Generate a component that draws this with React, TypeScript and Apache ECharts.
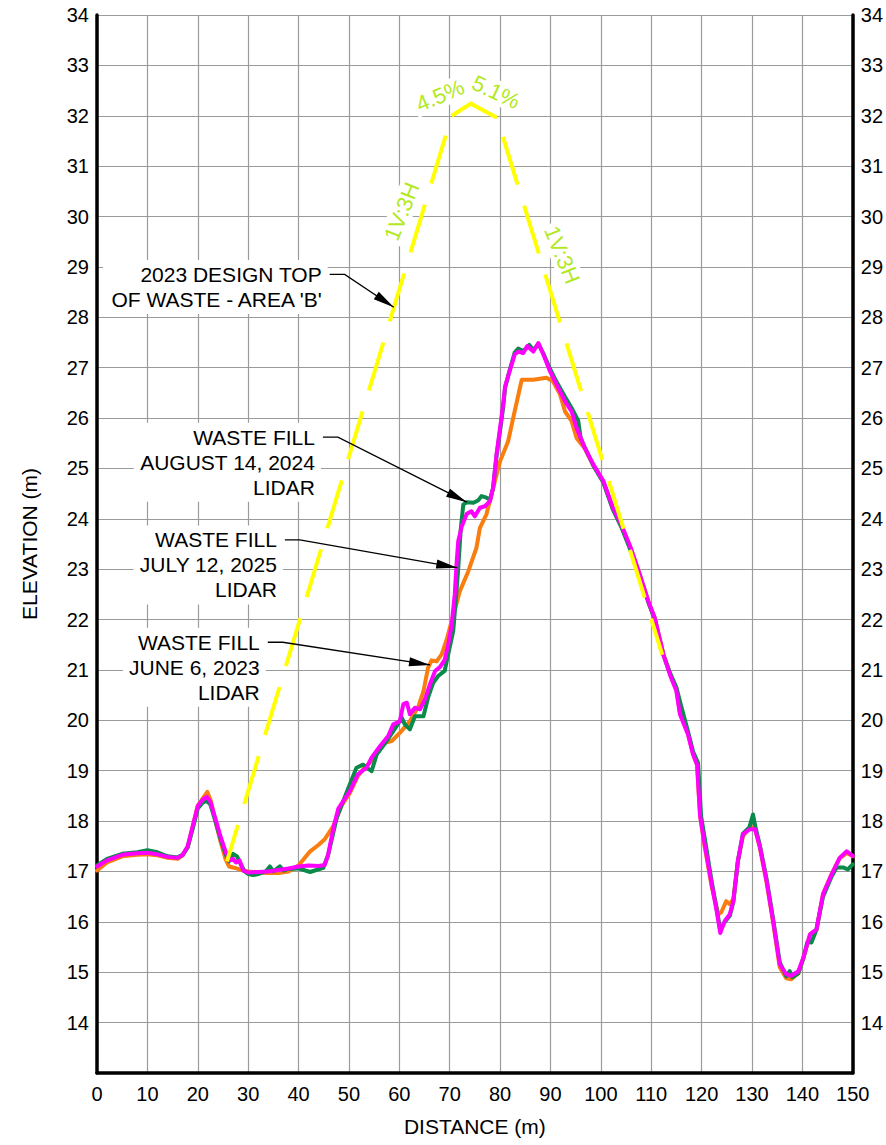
import React, { useEffect, useRef } from 'react';
import * as echarts from 'echarts';

// ---------- DATA ----------
// WASTE FILL JUNE 6, 2023 LIDAR  [distance m, elevation m]
const june2023: number[][] = [
  [0, 17.02], [2, 17.18], [5, 17.3], [8, 17.33], [10, 17.34], [12, 17.32], [14, 17.27], [16, 17.25],
  [17, 17.32], [18, 17.48], [19, 17.9], [20, 18.3], [21, 18.45], [21.9, 18.58], [22.6, 18.4], [23.5, 18.0],
  [24.5, 17.6], [25.5, 17.25], [26.2, 17.1], [27, 17.08], [28, 17.05], [29, 17.02], [30, 17.0], [32, 16.98],
  [34, 16.97], [36, 16.97], [38, 17.0], [40, 17.12], [42.3, 17.4], [44, 17.53], [45.2, 17.64], [46.9, 17.9],
  [48.5, 18.3], [50.2, 18.56], [51.8, 18.9], [53, 19.05], [54.5, 19.19], [56.8, 19.55], [58.5, 19.59],
  [60.1, 19.75], [62.1, 19.98], [63.8, 20.28], [64.8, 20.58], [65.7, 21.04], [66.4, 21.19], [67.4, 21.17],
  [68.4, 21.31], [69.4, 21.6], [70.4, 21.97], [72, 22.56], [73.7, 22.96], [75.3, 23.42], [76, 23.82],
  [77.3, 24.09], [78.3, 24.48], [80, 25.14], [81.6, 25.54], [82.6, 26.0], [84.3, 26.76], [86.6, 26.76],
  [89.2, 26.8], [90.5, 26.73], [91.9, 26.47], [92.9, 26.13], [94.2, 25.94], [95.2, 25.6], [96.8, 25.4],
  [98.5, 25.06], [100.5, 24.74], [102.4, 24.2], [104, 23.88], [105.8, 23.45], [107.7, 22.9], [109.4, 22.37],
  [110.7, 22.03], [112.4, 21.32], [113.7, 20.93], [115, 20.6], [115.7, 20.15], [117.3, 19.74], [118.3, 19.33],
  [119.1, 19.12], [119.7, 18.1], [120.6, 17.5], [122, 16.7], [123.3, 16.15], [123.9, 16.19], [124.9, 16.41],
  [125.6, 16.35], [126.3, 16.45], [127.2, 17.2], [128.2, 17.7], [129.6, 17.88], [130.6, 17.86], [131.6, 17.45],
  [132.9, 16.78], [134.2, 15.98], [135.5, 15.1], [136.8, 14.88], [137.8, 14.86], [139.2, 14.98], [140.2, 15.28],
  [141.5, 15.74], [142.8, 15.84], [144.1, 16.55], [145.8, 16.95], [147.4, 17.26], [148.8, 17.37], [150, 17.3],
];

// WASTE FILL AUGUST 14, 2024 LIDAR
const aug2024: number[][] = [
  [0, 17.12], [2, 17.25], [5, 17.35], [8, 17.38], [10, 17.42], [12, 17.38], [14, 17.3], [16, 17.28],
  [17, 17.33], [18, 17.48], [19, 17.85], [20, 18.25], [21, 18.37], [21.8, 18.4], [22.5, 18.33], [23.5, 18.0],
  [24.5, 17.65], [25.5, 17.35], [26.2, 17.2], [27, 17.35], [27.8, 17.3], [28.5, 17.15], [29.3, 17.0],
  [30, 16.95], [31, 16.93], [32, 16.95], [33.5, 17.0], [34.3, 17.1], [35, 17.0], [36.3, 17.1], [37, 17.02],
  [38, 17.05], [40, 17.06], [42.3, 16.99], [44.9, 17.07], [45.9, 17.34], [47.6, 18.07], [49.5, 18.56],
  [51.5, 19.06], [52.8, 19.12], [54.5, 18.99], [55.5, 19.32], [57.5, 19.59], [59.5, 19.89], [60.5, 20.05],
  [61.1, 19.92], [62.1, 19.82], [63.1, 20.08], [64.8, 20.08], [65.7, 20.45], [66.7, 20.74], [67.7, 20.88],
  [69, 20.98], [69.7, 21.31], [70.7, 21.77], [71.3, 22.5], [71.7, 23.03], [72.2, 23.8], [72.7, 24.28],
  [73.4, 24.33], [74.7, 24.32], [75.7, 24.37], [76.3, 24.45], [77.3, 24.42], [78, 24.38], [78.6, 24.6],
  [79.3, 25.25], [80, 25.75], [80.6, 26.2], [81, 26.6], [81.9, 26.95], [82.9, 27.3], [83.6, 27.38],
  [84.6, 27.33], [85.8, 27.45], [86.6, 27.35], [87.6, 27.47], [88.6, 27.28], [89.9, 26.98], [91.2, 26.72],
  [92.9, 26.42], [94.2, 26.2], [95.5, 25.95], [96, 25.6], [96.8, 25.42], [98.5, 25.06], [100.5, 24.72],
  [102.4, 24.18], [104, 23.85], [105.8, 23.4], [107.7, 22.88], [109.4, 22.35], [110.7, 22.0], [112.4, 21.3],
  [113.7, 20.95], [115, 20.65], [115.9, 20.3], [117.3, 19.78], [118.3, 19.38], [119.3, 19.15], [119.9, 18.1],
  [120.8, 17.55], [122, 16.8], [123, 16.25], [123.7, 15.84], [124.6, 16.0], [125.6, 16.12], [126.3, 16.4],
  [127.2, 17.2], [128.2, 17.75], [129.5, 17.88], [130.2, 18.13], [130.7, 17.88], [131.6, 17.5], [132.9, 16.85],
  [134.2, 16.05], [135.5, 15.2], [136.8, 14.92], [137.5, 15.02], [138, 14.9], [139.2, 14.98], [140.2, 15.28],
  [141, 15.6], [141.8, 15.59], [142.8, 15.85], [144.1, 16.5], [145.8, 16.9], [146.8, 17.08], [148.1, 17.08],
  [149, 17.04], [150, 17.14],
];

// WASTE FILL JULY 12, 2025 LIDAR
const jul2025: number[][] = [
  [0, 17.1], [2, 17.22], [5, 17.33], [8, 17.36], [10, 17.37], [12, 17.34], [14, 17.29], [16, 17.27],
  [17, 17.33], [18, 17.5], [19, 17.9], [20, 18.3], [21, 18.43], [21.8, 18.48], [22.5, 18.38], [23.5, 18.05],
  [24.5, 17.7], [25.5, 17.4], [26.2, 17.22], [27, 17.25], [27.6, 17.18], [28.3, 17.22], [29, 17.02],
  [30, 16.98], [32, 16.99], [34, 17.0], [36, 17.03], [38, 17.06], [40, 17.1], [42, 17.12], [44, 17.11],
  [45.2, 17.13], [45.8, 17.3], [47, 17.9], [47.9, 18.25], [48.9, 18.4], [50.2, 18.6], [51.8, 18.93],
  [53.5, 19.06], [54.5, 19.26], [56.2, 19.49], [57.8, 19.69], [58.8, 19.92], [60.1, 19.98], [60.8, 20.32],
  [61.5, 20.35], [62.1, 20.12], [63.1, 20.25], [64.1, 20.22], [65.1, 20.42], [66.1, 20.72], [67.1, 20.98],
  [68.1, 21.06], [69, 21.2], [69.7, 21.5], [70.4, 21.9], [71, 22.5], [71.4, 23.16], [71.7, 23.56],
  [72.4, 23.85], [73.4, 24.1], [74.3, 24.15], [75, 24.05], [76, 24.22], [77, 24.25], [78, 24.35],
  [78.6, 24.61], [79.3, 25.28], [80, 25.8], [80.6, 26.27], [81, 26.63], [81.9, 26.93], [82.9, 27.26],
  [83.6, 27.32], [84.6, 27.29], [85.4, 27.43], [86.6, 27.32], [87.6, 27.49], [88.6, 27.26], [89.9, 26.93],
  [91.2, 26.67], [92.9, 26.33], [94.2, 26.13], [95.2, 25.8], [96.8, 25.41], [98.5, 25.08], [100.5, 24.75],
  [102.4, 24.22], [104, 23.9], [105.8, 23.46], [107.7, 22.9], [109.4, 22.37], [110.7, 22.03], [112.4, 21.31],
  [113.7, 20.91], [115, 20.58], [115.7, 20.12], [117.3, 19.72], [118.3, 19.32], [119.1, 19.12], [119.7, 18.1],
  [120.6, 17.54], [122, 16.75], [123, 16.21], [123.7, 15.78], [124.6, 16.02], [125.6, 16.15], [126.3, 16.41],
  [127.2, 17.21], [128.2, 17.74], [129.6, 17.84], [130.6, 17.84], [131.6, 17.48], [132.9, 16.81],
  [134.2, 16.02], [135.5, 15.16], [136.8, 14.96], [137.8, 14.93], [139.2, 15.02], [140.2, 15.29],
  [141.5, 15.75], [142.8, 15.85], [144.1, 16.55], [145.8, 16.94], [147.4, 17.27], [148.8, 17.4], [150, 17.31],
];

// 2023 DESIGN TOP OF WASTE - AREA 'B'
const designLeftSlope: number[][] = [[25.8, 17.2], [70.4, 32.0]];
const designCrest: number[][] = [[70.4, 32.0], [74.2, 32.24], [79.4, 31.96]];
const designRightSlope: number[][] = [[79.4, 31.96], [112.2, 21.3]];

// axis ranges
const xMin = 0, xMax = 150, xStep = 10;
const yMin = 13, yMax = 34, yStep = 1;

// slope labels (anchor in data units, angle in degrees)
const slopeLabels = [
  { text: '4.5%', x: 68.1, y: 32.4, angle: 23 },
  { text: '5.1%', x: 79.2, y: 32.47, angle: -25 },
  { text: '1V:3H', x: 60.5, y: 30.1, angle: 68 },
  { text: '1V:3H', x: 92.3, y: 29.24, angle: -68 },
];

// callouts: text right edge / first-line centre, arrow tip (data units)
const callouts = [
  { lines: ['2023 DESIGN TOP', "OF WASTE - AREA 'B'"], textX: 44.6, textY: 28.85, tipX: 58.9, tipY: 28.2 },
  { lines: ['WASTE FILL', 'AUGUST 14, 2024', 'LIDAR'], textX: 43.25, textY: 25.62, tipX: 73.4, tipY: 24.33 },
  { lines: ['WASTE FILL', 'JULY 12, 2025', 'LIDAR'], textX: 35.7, textY: 23.58, tipX: 71.5, tipY: 23.03 },
  { lines: ['WASTE FILL', 'JUNE 6, 2023', 'LIDAR'], textX: 32.3, textY: 21.55, tipX: 66.1, tipY: 21.1 },
];

const FONT = '"Liberation Sans", Arial, Helvetica, sans-serif';
const W = 886, H = 1145;

export default function App() {
  const ref = useRef<HTMLDivElement>(null);
  useEffect(() => {
    if (!ref.current) return;
    const chart = echarts.init(ref.current, null, { renderer: 'svg', width: W, height: H });
    const axisLine = { show: true, lineStyle: { color: '#000', width: 3.5 } };
    const splitLine = { show: true, lineStyle: { color: '#9b9b9b', width: 1.2 } };
    const yLabel = { fontSize: 20, color: '#000', fontFamily: FONT, margin: 8, showMinLabel: false };
    const dataLine = (name: string, data: number[][], color: string) => ({
      name, type: 'line', data, showSymbol: false, symbol: 'none', z: 3,
      lineStyle: { color, width: 4, join: 'round', cap: 'round' },
      silent: true,
    });
    chart.setOption({
      animation: false,
      backgroundColor: '#fff',
      grid: { left: 97, right: 33, top: 15, bottom: 72, containLabel: false },
      xAxis: {
        type: 'value', min: xMin, max: xMax, interval: xStep,
        name: 'DISTANCE (m)', nameLocation: 'middle', nameGap: 43,
        nameTextStyle: { fontSize: 21, color: '#000', fontFamily: FONT },
        axisLine, axisTick: { show: false }, splitLine,
        axisLabel: { fontSize: 20, color: '#000', fontFamily: FONT, margin: 11 },
      },
      yAxis: [
        {
          type: 'value', min: yMin, max: yMax, interval: yStep, position: 'left',
          name: 'ELEVATION (m)', nameLocation: 'middle', nameGap: 57, nameRotate: 90,
          nameTextStyle: { fontSize: 21, color: '#000', fontFamily: FONT },
          axisLine, axisTick: { show: false }, splitLine, axisLabel: yLabel,
        },
        {
          type: 'value', min: yMin, max: yMax, interval: yStep, position: 'right',
          axisLine, axisTick: { show: false }, splitLine: { show: false }, axisLabel: yLabel,
        },
      ],
      series: [
        dataLine('WASTE FILL JUNE 6, 2023 LIDAR', june2023, '#FA7D0F'),
        dataLine('WASTE FILL AUGUST 14, 2024 LIDAR', aug2024, '#0A8A4B'),
        dataLine('WASTE FILL JULY 12, 2025 LIDAR', jul2025, '#FF00FF'),
        {
          name: 'DESIGN LEFT', type: 'line', data: designLeftSlope, symbol: 'none', z: 4, silent: true,
          lineStyle: { color: '#FFFF00', width: 4, type: [50, 22], dashOffset: 12, cap: 'butt' },
        },
        {
          name: 'DESIGN CREST', type: 'line', data: designCrest, symbol: 'none', z: 4, silent: true,
          lineStyle: { color: '#FFFF00', width: 4, join: 'miter' },
        },
        {
          name: 'DESIGN RIGHT', type: 'line', data: designRightSlope, symbol: 'none', z: 4, silent: true,
          lineStyle: { color: '#FFFF00', width: 4, type: [50, 22], dashOffset: 52, cap: 'butt' },
        },
      ],
    });

    const toPx = (p: number[]) => chart.convertToPixel({ xAxisIndex: 0, yAxisIndex: 0 }, p) as number[];
    const els: any[] = [];
    slopeLabels.forEach((s) => {
      const [x, y] = toPx([s.x, s.y]);
      els.push({
        type: 'text', x, y, rotation: (s.angle * Math.PI) / 180, z: 1, silent: true,
        style: {
          text: s.text, fill: '#B2E81E', fontSize: 22, fontFamily: FONT,
          align: 'center', verticalAlign: 'middle', backgroundColor: '#fff', padding: [1, 3],
        },
      });
    });
    callouts.forEach((c) => {
      const [tx, ty] = toPx([c.textX, c.textY]);
      const [px, py] = toPx([c.tipX, c.tipY]);
      els.push({
        type: 'text', x: tx + 6, y: ty - 14.5, z: 1, silent: true,
        style: {
          text: c.lines.join('\n'), fill: '#000', fontSize: 21, fontFamily: FONT,
          align: 'right', verticalAlign: 'top', lineHeight: 25,
          backgroundColor: '#fff', padding: [2, 6, 2, 6],
        },
      });
      const e1 = tx + 8, e2 = tx + 23;
      els.push({
        type: 'polyline', z: 10, silent: true,
        shape: { points: [[e1, ty], [e2, ty], [px, py]] },
        style: { stroke: '#000', lineWidth: 1.3, fill: null },
      });
      const dx = px - e2, dy = py - ty;
      const len = Math.hypot(dx, dy);
      const ux = dx / len, uy = dy / len;
      const L = 21, hw = 4.5;
      const bx = px - ux * L, by = py - uy * L;
      els.push({
        type: 'polygon', z: 10, silent: true,
        shape: { points: [[px, py], [bx - uy * hw, by + ux * hw], [bx + uy * hw, by - ux * hw]] },
        style: { fill: '#000' },
      });
    });
    chart.setOption({ graphic: els });
    return () => chart.dispose();
  }, []);
  return <div ref={ref} style={{ position: 'fixed', left: 0, top: 0, width: W, height: H, background: '#fff' }} />;
}
